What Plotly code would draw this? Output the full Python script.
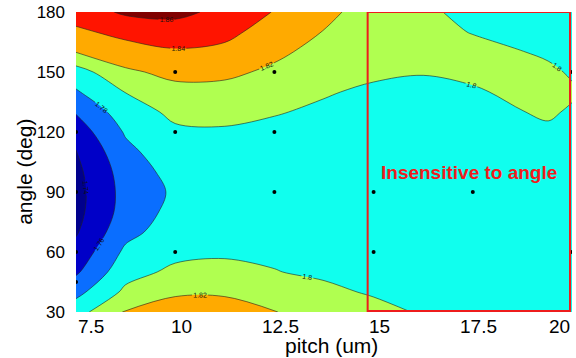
import plotly.graph_objects as go

# ---- data ----
pitch = [7.5, 8.75, 10, 11.25, 12.5, 13.75, 15, 16.25, 17.5, 18.75, 19.4, 20]
angle = [30, 40, 50, 60, 70, 80, 90, 100, 110, 120, 130, 140, 150, 160, 170, 180]

# rows follow `angle`, columns follow `pitch`
z_values = [
    [1.792, 1.822, 1.830, 1.830, 1.8205, 1.8134, 1.806, 1.798, 1.797, 1.797, 1.797, 1.797],
    [1.774, 1.804, 1.817, 1.817, 1.8106, 1.804, 1.798, 1.797, 1.7965, 1.7965, 1.7965, 1.7965],
    [1.757, 1.793, 1.804, 1.806, 1.8006, 1.797, 1.796, 1.796, 1.796, 1.796, 1.796, 1.796],
    [1.7465, 1.784, 1.795, 1.797, 1.797, 1.795, 1.795, 1.795, 1.7955, 1.7955, 1.796, 1.796],
    [1.738, 1.774, 1.790, 1.794, 1.794, 1.794, 1.794, 1.794, 1.795, 1.795, 1.796, 1.7955],
    [1.734, 1.768, 1.786, 1.790, 1.791, 1.792, 1.793, 1.7935, 1.7945, 1.795, 1.796, 1.7955],
    [1.733, 1.767, 1.783, 1.788, 1.789, 1.791, 1.7925, 1.7935, 1.7945, 1.795, 1.796, 1.7955],
    [1.735, 1.769, 1.787, 1.791, 1.791, 1.792, 1.793, 1.794, 1.795, 1.796, 1.797, 1.796],
    [1.739, 1.775, 1.792, 1.795, 1.794, 1.794, 1.794, 1.795, 1.796, 1.797, 1.798, 1.797],
    [1.749, 1.782, 1.797, 1.798, 1.797, 1.796, 1.795, 1.796, 1.797, 1.798, 1.799, 1.798],
    [1.7615, 1.791, 1.8041, 1.805, 1.8008, 1.798, 1.7965, 1.797, 1.798, 1.7999, 1.8008, 1.7993],
    [1.778, 1.8005, 1.8144, 1.814, 1.8086, 1.801, 1.798, 1.799, 1.7995, 1.801, 1.8018, 1.8008],
    [1.791, 1.817, 1.8248, 1.824, 1.8165, 1.8076, 1.802, 1.8002, 1.801, 1.8015, 1.8012, 1.7993],
    [1.8205, 1.831, 1.8376, 1.8354, 1.824, 1.8135, 1.8057, 1.8012, 1.8014, 1.8001, 1.799, 1.7975],
    [1.836, 1.846, 1.851, 1.845, 1.8315, 1.8194, 1.8093, 1.8015, 1.7998, 1.7986, 1.7975, 1.796],
    [1.850, 1.863, 1.865, 1.855, 1.839, 1.824, 1.813, 1.802, 1.797, 1.797, 1.796, 1.795],
]

# sampled design points (black dots)
point_pitch = [7.5, 7.5, 7.5, 7.5, 10, 10, 10, 12.5, 12.5, 12.5, 15, 15, 17.5, 20, 20]
point_angle = [120, 90, 60, 45, 150, 120, 60, 150, 120, 90, 90, 60, 90, 150, 60]

levels_start, levels_end, levels_step = 1.74, 1.86, 0.02
band_colors = ["#00008C", "#0000C8", "#0A6EFF", "#10FFEE", "#B0FF50",
               "#FFAA00", "#FF1400", "#800000"]

xtick_vals = [7.5, 10, 12.5, 15, 17.5, 20]
xtick_text = ["7.5", "10", "12.5", "15", "17.5", "20"]
ytick_vals = [30, 60, 90, 120, 150, 180]
ytick_text = ["30", "60", "90", "120", "150", "180"]

box_pitch = [14.85, 19.95]
box_angle = [30.5, 180]
box_label = "Insensitive to angle"
box_label_pos = (17.4, 100)

FONT = "Arial, Liberation Sans, sans-serif"

n = len(band_colors)
colorscale = [[i / (n - 1), c] for i, c in enumerate(band_colors)]

fig = go.Figure()
fig.add_trace(go.Contour(
    x=pitch, y=angle, z=z_values,
    autocontour=False,
    contours=dict(start=levels_start, end=levels_end, size=levels_step,
                  coloring="fill", showlabels=True,
                  labelfont=dict(size=7, color="#111111", family=FONT),
                  labelformat=".3~g"),
    colorscale=colorscale,
    line=dict(color="#222222", width=0.6, smoothing=1.0),
    showscale=False,
    hoverinfo="skip",
))
fig.add_trace(go.Scatter(
    x=point_pitch, y=point_angle, mode="markers",
    marker=dict(color="black", size=4),
    showlegend=False, hoverinfo="skip",
))

fig.add_shape(type="rect", xref="x", yref="y",
              x0=box_pitch[0], x1=box_pitch[1], y0=box_angle[0], y1=box_angle[1],
              line=dict(color="#EE1C1C", width=2))
fig.add_annotation(x=box_label_pos[0], y=box_label_pos[1], xref="x", yref="y",
                   text="<b>" + box_label + "</b>", showarrow=False,
                   font=dict(size=19, color="#EE1C1C", family=FONT))

# x tick labels (MATLAB style: end labels kept inside the axis)
for i, (v, t) in enumerate(zip(xtick_vals, xtick_text)):
    if i == 0:
        anchor, shift = "left", 0
    elif i == len(xtick_vals) - 1:
        anchor, shift = "right", 0
    else:
        anchor, shift = "center", 6
    fig.add_annotation(x=v, y=0, xref="x", yref="paper", text=t, showarrow=False,
                       xanchor=anchor, yanchor="top", xshift=shift, yshift=-2,
                       font=dict(size=19, color="black", family=FONT))

fig.add_annotation(x=0.516, y=-0.11, xref="paper", yref="paper", text="pitch (um)",
                   showarrow=False, xanchor="center", yanchor="middle",
                   font=dict(size=21, color="black", family=FONT))
fig.add_annotation(x=-0.103, y=0.467, xref="paper", yref="paper", text="angle (deg)",
                   showarrow=False, xanchor="center", yanchor="middle", textangle=-90,
                   font=dict(size=21, color="black", family=FONT))

fig.update_layout(
    width=576, height=358,
    margin=dict(l=76, r=4, t=12, b=46),
    paper_bgcolor="white", plot_bgcolor="white",
    showlegend=False,
    font=dict(family=FONT, color="black"),
    xaxis=dict(range=[pitch[0], pitch[-1]], showgrid=False, zeroline=False,
               showticklabels=False, ticks="", showline=False),
    yaxis=dict(range=[angle[0], angle[-1]], showgrid=False, zeroline=False,
               tickvals=ytick_vals, ticktext=ytick_text, ticks="",
               tickfont=dict(size=17, color="black", family=FONT),
               ticklabelstandoff=10, showline=False),
)

fig.write_html("out.html",
               config={"displayModeBar": False},
               post_script="document.body.style.margin='0';document.body.style.padding='0';")
